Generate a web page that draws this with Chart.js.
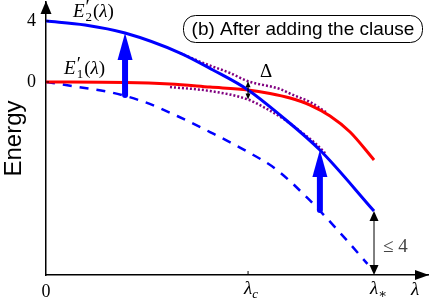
<!DOCTYPE html>
<html><head><meta charset="utf-8">
<script src="https://cdn.jsdelivr.net/npm/chart.js@4"></script>
<style>html,body{margin:0;padding:0;background:#fff}canvas{display:block}</style>
</head><body>
<canvas id="c" width="431" height="301"></canvas>
<script>
// ---- data (λ in units of λ*, energy in tick units) ----
const e2Lambda     = [0, 0.119, 0.241, 0.409, 0.509, 0.616, 0.713, 0.835, 1.0];
const energyE2     = [4.00, 3.74, 3.21, 1.90, 0.79, -0.52, -2.16, -4.46, -8.46];
const e1Lambda     = [0, 0.241, 0.378, 0.5, 0.616, 0.683, 0.744, 0.805, 0.866, 0.927, 1.0];
const energyE1     = [0, -0.03, -0.13, -0.33, -0.52, -0.75, -1.05, -1.51, -2.23, -3.28, -5.11];
const dashedLambda = [0, 0.1, 0.2, 0.3, 0.4, 0.5, 0.616, 0.7, 0.8, 0.9, 0.98];
const energyDashed = [0, -0.33, -0.69, -1.31, -2.23, -3.28, -4.59, -5.70, -7.67, -9.97, -11.93];
const upperDotLambda = [0.409, 0.479, 0.561, 0.616, 0.713, 0.753, 0.805, 0.857];
const upperDotEnergy = [1.90, 1.25, 0.59, 0.05, -0.46, -0.85, -1.31, -2.03];
const lowerDotLambda = [0.378, 0.5, 0.616, 0.668, 0.729, 0.774, 0.820, 0.851];
const lowerDotEnergy = [-0.33, -0.59, -1.15, -1.70, -2.49, -3.21, -4.00, -4.66];
const arrowLambda = [0.241, 0.835];
const arrowFrom   = [-0.85, -8.39];
const arrowTo     = [3.21, -4.46];
const lambdaC = 0.616;
const lambdaStar = 1.0;
const gapFrom = 0.05, gapTo = -1.15;
const yTickValues = [0, 4];
const yTickLabels = ['0', '4'];
const xTickValues = [0, lambdaC, lambdaStar];
const xTickLabels = [['0', ''], ['λ', 'c'], ['λ', '∗']];
const boxLabel = '(b) After adding the clause';
const yTitle = 'Energy';

const pts = (xs, ys) => xs.map((x, i) => ({x: x, y: ys[i]}));
const SERIF = '"Liberation Serif", "DejaVu Serif", serif';
const SANS = '"Liberation Sans", Arial, sans-serif';

function drawParts(ctx, parts, x, y) {
  let cx = x, lastX = x, lastW = 0;
  ctx.textBaseline = 'alphabetic'; ctx.textAlign = 'left';
  parts.forEach(p => {
    ctx.font = p.font;
    const w = ctx.measureText(p.t).width;
    let px = cx;
    if (p.stack) { px = lastX; }
    ctx.fillText(p.t, px, y + (p.dy || 0));
    if (p.stack) { cx = lastX + Math.max(lastW, w) + (p.gap || 0); lastW = Math.max(lastW, w); }
    else { lastX = cx; lastW = w; cx += w + (p.gap || 0); }
  });
  return cx;
}
function tri(ctx, tipX, tipY, dx, dy, len, half) {
  const bx = tipX - dx * len, by = tipY - dy * len;
  ctx.beginPath();
  ctx.moveTo(tipX, tipY);
  ctx.lineTo(bx - dy * half, by + dx * half);
  ctx.lineTo(bx + dy * half, by - dx * half);
  ctx.closePath(); ctx.fill();
}

const deco = {
  id: 'deco',
  afterDraw(chart) {
    const ctx = chart.ctx, xs = chart.scales.x, ys = chart.scales.y, a = chart.chartArea;
    ctx.save();
    ctx.fillStyle = '#000'; ctx.strokeStyle = '#000';
    // axis arrowheads
    tri(ctx, a.left, a.top - 1, 0, -1, 13, 5.5);
    tri(ctx, a.right + 1, a.bottom, 1, 0, 14, 5);
    // tick marks (inside)
    ctx.lineWidth = 1;
    yTickValues.forEach(v => { const y = ys.getPixelForValue(v); ctx.beginPath(); ctx.moveTo(a.left, y); ctx.lineTo(a.left + 3, y); ctx.stroke(); });
    [lambdaC].forEach(v => { const x = xs.getPixelForValue(v); ctx.beginPath(); ctx.moveTo(x, a.bottom); ctx.lineTo(x, a.bottom - 4); ctx.stroke(); });
    // x tick labels
    ctx.fillStyle = '#000';
    xTickValues.forEach((v, i) => {
      const x = xs.getPixelForValue(v);
      const [m, s] = xTickLabels[i];
      if (!s) { ctx.font = '18px ' + SERIF; ctx.textAlign = 'center'; ctx.textBaseline = 'alphabetic'; ctx.fillText(m, x, 297); }
      else {
        drawParts(ctx, [{t: m, font: 'italic 19px ' + SERIF}, {t: s, font: (s === 'c' ? 'italic 13px ' : '13px ') + SERIF, dy: 4}], x - 4, 294);
      }
    });
    // axis label λ
    ctx.font = 'italic 19px ' + SERIF; ctx.textAlign = 'left'; ctx.fillText('λ', 411, 295);

    // blue up arrows
    ctx.fillStyle = '#0000ff'; ctx.strokeStyle = '#0000ff';
    arrowLambda.forEach((l, i) => {
      const x = xs.getPixelForValue(l), y0 = ys.getPixelForValue(arrowFrom[i]), y1 = ys.getPixelForValue(arrowTo[i]);
      ctx.lineWidth = 6; ctx.lineCap = 'round';
      ctx.beginPath(); ctx.moveTo(x, y0); ctx.lineTo(x, y1 + 22); ctx.stroke();
      ctx.lineCap = 'butt';
      tri(ctx, x, y1, 0, -1, 27, 7.5);
    });
    // gap arrow Δ
    ctx.fillStyle = '#000'; ctx.strokeStyle = '#000'; ctx.lineWidth = 1.2;
    {
      const x = xs.getPixelForValue(lambdaC), y0 = ys.getPixelForValue(gapFrom), y1 = ys.getPixelForValue(gapTo);
      ctx.beginPath(); ctx.moveTo(x, y0 + 4); ctx.lineTo(x, y1 - 4); ctx.stroke();
      tri(ctx, x, y0, 0, -1, 6, 2.5);
      tri(ctx, x, y1, 0, 1, 6, 2.5);
      ctx.font = '19px ' + SERIF; ctx.textAlign = 'center'; ctx.textBaseline = 'alphabetic';
      ctx.fillText('Δ', x + 18, y0 - 4);
    }
    // ≤ 4 arrow
    {
      const x = xs.getPixelForValue(lambdaStar), y0 = ys.getPixelForValue(energyE2[energyE2.length - 1]), y1 = a.bottom;
      ctx.strokeStyle = '#555'; ctx.lineWidth = 1.5;
      ctx.beginPath(); ctx.moveTo(x, y0 + 8); ctx.lineTo(x, y1 - 8); ctx.stroke();
      ctx.fillStyle = '#000';
      tri(ctx, x, y0, 0, -1, 10, 4.5);
      tri(ctx, x, y1, 0, 1, 10, 4.5);
      ctx.fillStyle = '#444'; ctx.font = '19px ' + SERIF; ctx.textAlign = 'left';
      ctx.fillText('≤ 4', x + 9, (y0 + y1) / 2 + 9);
    }
    // curve labels
    ctx.fillStyle = '#000';
    const lab = (sub, x, y) => drawParts(ctx, [
      {t: 'E', font: 'italic 19px ' + SERIF, gap: 1},
      {t: '′', font: '19px ' + SERIF, dy: -4},
      {t: sub, font: '13px ' + SERIF, dy: 4, stack: true, gap: 1},
      {t: '(', font: '19px ' + SERIF},
      {t: 'λ', font: 'italic 19px ' + SERIF},
      {t: ')', font: '19px ' + SERIF}
    ], x, y);
    lab('2', xs.getPixelForValue(0.082), ys.getPixelForValue(4.26));
    lab('1', xs.getPixelForValue(0.055), ys.getPixelForValue(0.52));
    // panel label box
    ctx.strokeStyle = '#000'; ctx.lineWidth = 1;
    ctx.beginPath(); ctx.roundRect(183.5, 15.5, 239, 27, 12); ctx.stroke();
    ctx.font = '19px ' + SANS; ctx.textAlign = 'center'; ctx.textBaseline = 'alphabetic';
    ctx.fillText(boxLabel, 303, 35);
    ctx.restore();
  }
};

new Chart(document.getElementById('c').getContext('2d'), {
  type: 'line',
  data: {datasets: [
    {label: 'E2', data: pts(e2Lambda, energyE2), borderColor: '#0000ff', borderWidth: 3, order: 0},
    {label: 'E1', data: pts(e1Lambda, energyE1), borderColor: '#ff0000', borderWidth: 3, order: 1},
    {label: 'upper', data: pts(upperDotLambda, upperDotEnergy), borderColor: '#800080', borderWidth: 2.5, borderDash: [2, 2], order: 2},
    {label: 'lower', data: pts(lowerDotLambda, lowerDotEnergy), borderColor: '#800080', borderWidth: 2.5, borderDash: [2, 2], order: 2},
    {label: 'dashed', data: pts(dashedLambda, energyDashed), borderColor: '#0000ff', borderWidth: 2.5, borderDash: [9, 8], order: 3}
  ]},
  options: {
    responsive: false, animation: false, devicePixelRatio: 1,
    layout: {padding: {top: 2, right: 3, left: 0, bottom: 0}},
    elements: {point: {radius: 0}, line: {cubicInterpolationMode: 'monotone', fill: false}},
    plugins: {legend: {display: false}, tooltip: {enabled: false}},
    scales: {
      x: {type: 'linear', min: 0, max: 1.1646,
        grid: {display: false, drawTicks: false},
        border: {display: true, color: '#000', width: 1.5},
        ticks: {display: false},
        afterBuildTicks: s => { s.ticks = xTickValues.map(v => ({value: v})); },
        afterFit: s => { s.height = 26; s.paddingLeft = 0; s.paddingRight = 0; s.paddingTop = 0; s.paddingBottom = 0; }},
      y: {type: 'linear', min: -12.656, max: 5.246,
        grid: {display: false, drawTicks: false},
        border: {display: true, color: '#000', width: 1.5},
        ticks: {padding: 10, color: '#000', font: {family: 'Liberation Serif', size: 18},
          callback: v => { const i = yTickValues.indexOf(v); return i >= 0 ? yTickLabels[i] : ''; }},
        afterBuildTicks: s => { s.ticks = yTickValues.map(v => ({value: v})); },
        afterFit: s => { s.width = 46; s.paddingTop = 0; s.paddingBottom = 0; s.paddingLeft = 0; s.paddingRight = 0; },
        title: {display: true, text: yTitle, color: '#000', font: {family: 'Liberation Sans', size: 24}, padding: {top: 0, bottom: 0}}}
    }
  },
  plugins: [deco]
});
</script>
</body></html>
